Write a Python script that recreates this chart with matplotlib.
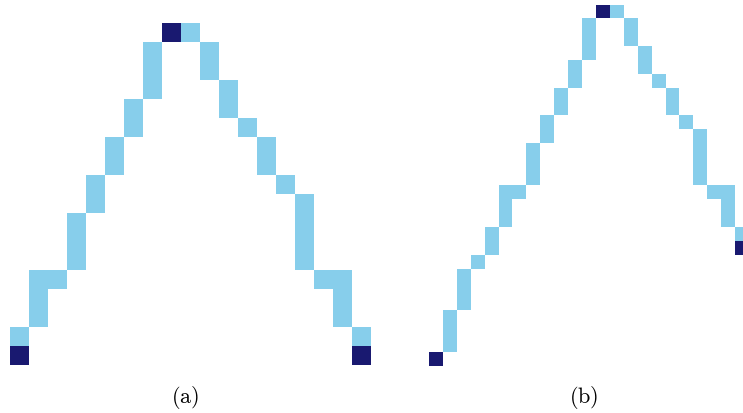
import matplotlib
matplotlib.use("Agg")
import matplotlib.pyplot as plt
import numpy as np
from matplotlib.colors import ListedColormap

# panel (a): 19 columns x 18 rows, rows of the light path in each column
a_ncols, a_nrows = 19, 18
a_path_rows = [[16], [13, 14, 15], [13], [10, 11, 12], [8, 9], [6, 7], [4, 5],
               [1, 2, 3], [], [0], [1, 2], [3, 4], [5], [6, 7], [8],
               [9, 10, 11, 12], [13], [13, 14, 15], [16]]
a_marks = [(0, 17), (8, 0), (18, 17)]   # (column, row) of dark cells

# panel (b): 23 columns x 26 rows (right edge clipped by the figure)
b_ncols, b_nrows = 23, 26
b_path_rows = [[], [22, 23, 24], [19, 20, 21], [18], [16, 17], [13, 14, 15],
               [13], [10, 11, 12], [8, 9], [6, 7], [4, 5], [1, 2, 3], [], [0],
               [1, 2], [3, 4], [5], [6, 7], [8], [9, 10, 11, 12], [13],
               [13, 14, 15], [16]]
b_marks = [(0, 25), (12, 0), (22, 17)]

labels = ["(a)", "(b)"]


def build_grid(ncols, nrows, path_rows, marks):
    grid = np.zeros((nrows, ncols))
    for c, rows in enumerate(path_rows):
        for r in rows:
            grid[r, c] = 1
    for c, r in marks:
        grid[r, c] = 2
    return grid


plt.rcParams["mathtext.fontset"] = "cm"
cmap = ListedColormap(["white", "skyblue", "midnightblue"])

W, H = 743, 414
fig = plt.figure(figsize=(W / 100, H / 100), dpi=100)

# axes boxes in pixels: left, top, width, height
boxes = [(10, 24, 361, 342), (429, 6, 23 * 13.9, 26 * 13.9)]
panels = [(a_ncols, a_nrows, a_path_rows, a_marks),
          (b_ncols, b_nrows, b_path_rows, b_marks)]
label_x = [185, 584]

for (l, t, w, h), (nc, nr, pr, mk), lab, lx in zip(boxes, panels, labels, label_x):
    ax = fig.add_axes([l / W, (H - t - h) / H, w / W, h / H])
    grid = build_grid(nc, nr, pr, mk)
    ax.imshow(grid, cmap=cmap, vmin=0, vmax=2, interpolation="nearest",
              aspect="auto", extent=(-0.5, nc - 0.5, nr - 0.5, -0.5))
    ax.axis("off")
    fig.text(lx / W, 1 - 398 / H, r"$\mathrm{" + lab + "}$", fontsize=16,
             ha="center", va="center")

fig.savefig("out.png", dpi=100)
